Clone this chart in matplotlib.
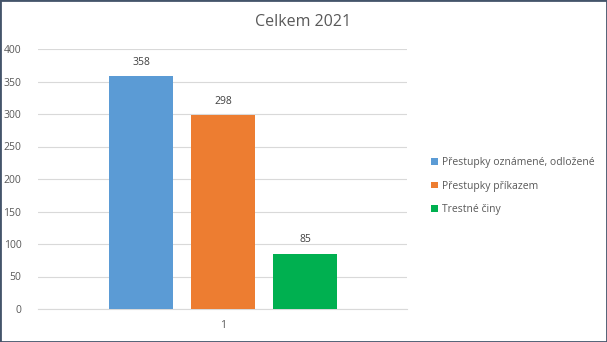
import matplotlib
matplotlib.use("Agg")
import matplotlib.pyplot as plt
from matplotlib.patches import Rectangle

categories = ["Přestupky oznámené, odložené", "Přestupky příkazem", "Trestné činy"]
values = [358, 298, 85]
colors = ["#5B9BD5", "#ED7D31", "#00B050"]
yticks = [0, 50, 100, 150, 200, 250, 300, 350, 400]

plt.rcParams['font.family'] = ['Open Sans', 'DejaVu Sans']

fig = plt.figure(figsize=(6.07, 3.42), dpi=100)
ax = fig.add_axes([38/607, 1-309/342, (407-38)/607, (309-49)/342])

xs = [0, 1, 2]
bars = ax.bar(xs, values, width=0.78, color=colors, label=categories, zorder=3)
for x, v in zip(xs, values):
    ax.annotate(str(v), (x, v), xytext=(0, 6), textcoords="offset points",
                ha="center", va="bottom", fontsize=7.5, color="#404040")

ax.set_xlim(-1.256, 3.244)
ax.set_ylim(0, 400)
ax.set_yticks(yticks)
ax.set_yticklabels([str(t) for t in yticks])
ax.set_xticks([1])
ax.set_xticklabels(["1"])
ax.grid(axis="y", color="#D9D9D9", linewidth=0.8, zorder=0)
for s in ["top", "right", "left"]:
    ax.spines[s].set_visible(False)
ax.spines["bottom"].set_color("#D9D9D9")
ax.tick_params(axis="both", length=0, labelsize=7.5, colors="#595959", pad=12)
ax.tick_params(axis="x", pad=8)

fig.text(303/607, 1-22/342, "Celkem 2021", ha="center", va="center", fontsize=11.5, color="#595959")

leg = fig.legend(handles=bars, labels=categories, loc="center left",
                 bbox_to_anchor=(422/607, 1-186/342), frameon=False,
                 fontsize=7.5, handlelength=0.6, handleheight=0.6, handletextpad=0.4,
                 labelspacing=1.2, labelcolor="#595959")

fig.patches.append(Rectangle((0, 0), 1, 1, transform=fig.transFigure, fill=False,
                             edgecolor="#44546A", linewidth=2, zorder=10))

fig.savefig("out.png", dpi=100)
